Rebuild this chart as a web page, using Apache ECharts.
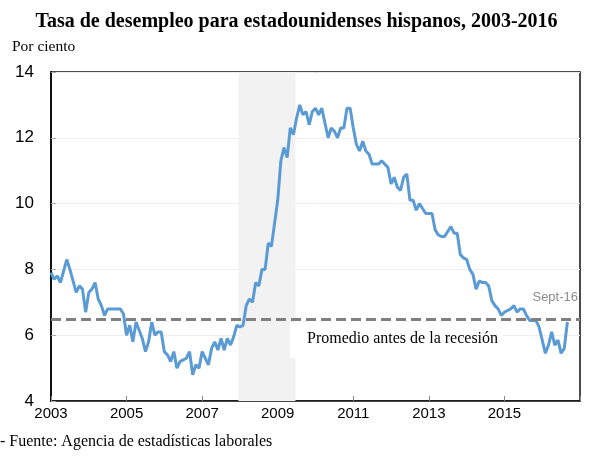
<!DOCTYPE html>
<html>
<head>
<meta charset="utf-8">
<script src="https://cdn.jsdelivr.net/npm/echarts@6/dist/echarts.min.js"></script>
<style>
  html, body { margin: 0; padding: 0; background: #fff; }
  #chart { width: 593px; height: 459px; }
</style>
</head>
<body>
<div id="chart"></div>
<script>
// tasa mensual de desempleo hispano (%)
var rate2003 = [7.9, 7.7, 7.8, 7.6, 7.95, 8.3, 8.0, 7.65, 7.3, 7.5, 7.4, 6.7];
var rate2004 = [7.3, 7.4, 7.6, 7.1, 6.9, 6.6, 6.8, 6.8, 6.8, 6.8, 6.8, 6.65];
var rate2005 = [6.0, 6.3, 5.8, 6.4, 6.15, 5.9, 5.5, 5.8, 6.4, 6.0, 6.1, 6.1];
var rate2006 = [5.5, 5.4, 5.2, 5.5, 5.0, 5.2, 5.25, 5.3, 5.5, 4.8, 5.1, 5.0];
var rate2007 = [5.5, 5.3, 5.1, 5.6, 5.8, 5.55, 5.9, 5.55, 5.9, 5.7, 5.95, 6.3];
var rate2008 = [6.25, 6.3, 6.9, 7.1, 7.0, 7.6, 7.5, 8.0, 8.0, 8.8, 8.7, 9.4];
var rate2009 = [10.1, 11.3, 11.7, 11.4, 12.3, 12.1, 12.6, 13.0, 12.7, 12.8, 12.4, 12.8];
var rate2010 = [12.9, 12.7, 12.9, 12.45, 12.0, 12.3, 12.2, 12.0, 12.3, 12.3, 12.9, 12.9];
var rate2011 = [12.3, 11.8, 11.6, 11.9, 11.6, 11.5, 11.2, 11.2, 11.2, 11.3, 11.2, 11.1];
var rate2012 = [10.6, 10.8, 10.5, 10.4, 10.8, 10.9, 10.1, 10.1, 9.8, 10.0, 9.85, 9.7];
var rate2013 = [9.7, 9.7, 9.2, 9.05, 9.0, 9.0, 9.15, 9.3, 9.1, 9.1, 8.45, 8.35];
var rate2014 = [8.3, 8.0, 7.85, 7.4, 7.65, 7.6, 7.6, 7.5, 7.05, 6.9, 6.8, 6.6];
var rate2015 = [6.7, 6.75, 6.8, 6.9, 6.7, 6.8, 6.8, 6.6, 6.45, 6.45, 6.45, 6.25];
var rate2016 = [5.85, 5.45, 5.7, 6.1, 5.7, 5.85, 5.45, 5.6, 6.4];

var startYear = 2003;
var endYear = 2017;
var avgBeforeRecession = 6.5;       // promedio antes de la recesion
var recession = [2007.96, 2009.47]; // dic 2007 - jun 2009

var yTicks = [4, 6, 8, 10, 12, 14];

var allRates = [].concat(rate2003, rate2004, rate2005, rate2006, rate2007, rate2008,
  rate2009, rate2010, rate2011, rate2012, rate2013, rate2014, rate2015, rate2016);

// x = anos desde 2003 (para que min sea multiplo del intervalo)
var lineData = allRates.map(function (v, i) { return [i / 12, v]; });

var myChart = echarts.init(document.getElementById('chart'));

var option = {
  backgroundColor: '#fff',
  animation: false,
  title: {
    text: 'Tasa de desempleo para estadounidenses hispanos, 2003-2016',
    left: 'center',
    top: 7,
    textStyle: {
      fontFamily: 'Liberation Serif',
      fontWeight: 'bold',
      fontSize: 20,
      color: '#000'
    }
  },
  grid: {
    left: 51,
    right: 13,
    top: 72,
    bottom: 58,
    show: true,
    borderColor: '#111',
    borderWidth: 1.5,
    backgroundColor: 'transparent'
  },
  xAxis: {
    type: 'value',
    min: 0,
    max: endYear - startYear,
    interval: 2,
    axisLine: { show: true, lineStyle: { color: '#111', width: 1.5 } },
    axisTick: { show: true, inside: true, length: 5, lineStyle: { color: '#888' } },
    splitLine: { show: false },
    axisLabel: {
      margin: 5,
      fontFamily: 'Liberation Sans',
      fontSize: 15,
      color: '#000',
      formatter: function (v) { return v === endYear - startYear ? '' : String(v + startYear); }
    }
  },
  yAxis: {
    type: 'value',
    min: yTicks[0],
    max: yTicks[yTicks.length - 1],
    interval: 2,
    axisLine: { show: true, lineStyle: { color: '#111', width: 2 } },
    axisTick: { show: true, inside: true, length: 5, lineStyle: { color: '#aaa' } },
    splitLine: { show: true, lineStyle: { color: '#eeeeee', width: 1 } },
    axisLabel: {
      margin: 17,
      fontFamily: 'Liberation Sans',
      fontSize: 17,
      color: '#000'
    }
  },
  graphic: [
    {
      type: 'text', left: 12, top: 39, z: 10,
      style: { text: 'Por ciento', fontFamily: 'Liberation Serif', fontSize: 15.5, fill: '#000' }
    },
    {
      type: 'text', left: 0, top: 434, z: 10,
      style: { text: '- Fuente: Agencia de estadísticas laborales', fontFamily: 'Liberation Serif', fontSize: 16, fill: '#000' }
    },
    {
      type: 'rect', z: 1.5,
      shape: { x: 290, y: 322, width: 213, height: 36 },
      style: { fill: '#fff' }
    },
    {
      type: 'text', left: 307, top: 331, z: 10,
      style: { text: 'Promedio antes de la recesión', fontFamily: 'Liberation Serif', fontSize: 16, fill: '#000' }
    },
    {
      type: 'text', right: 15, top: 291, z: 10,
      style: { text: 'Sept-16', fontFamily: 'Liberation Sans', fontSize: 13, fill: '#8c8c8c' }
    }
  ],
  series: [
    {
      type: 'line',
      name: 'recesion',
      data: [],
      z: 1,
      markArea: {
        silent: true,
        itemStyle: { color: '#f2f2f2' },
        data: [[{ xAxis: recession[0] - startYear }, { xAxis: recession[1] - startYear }]]
      }
    },
    {
      type: 'line',
      name: 'Desempleo hispano',
      data: lineData,
      z: 4,
      showSymbol: false,
      symbol: 'none',
      lineStyle: { color: '#5b9bd5', width: 3 },
      markLine: {
        silent: true,
        symbol: 'none',
        label: { show: false },
        lineStyle: { color: '#808080', width: 3, type: [10, 5] },
        data: [{ yAxis: avgBeforeRecession }]
      }
    }
  ]
};

myChart.setOption(option);
</script>
</body>
</html>
